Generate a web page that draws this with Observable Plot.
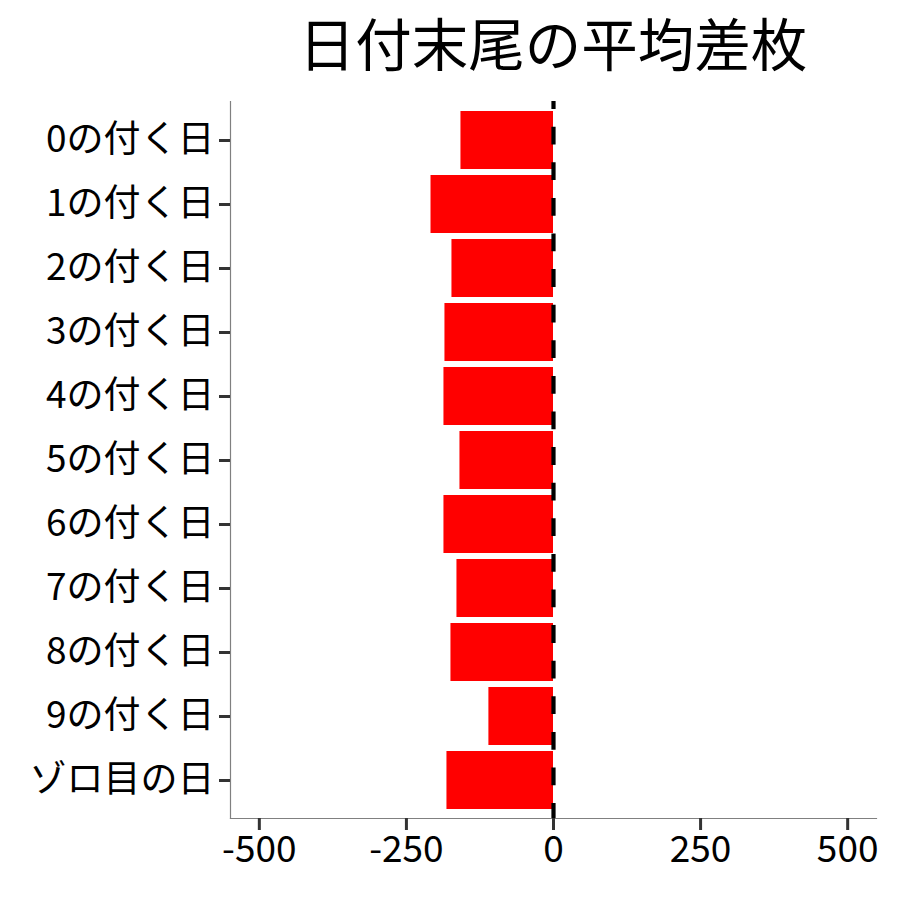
<!DOCTYPE html>
<html>
<head>
<meta charset="utf-8">
<script src="https://cdn.jsdelivr.net/npm/d3@7"></script>
<script src="https://cdn.jsdelivr.net/npm/@observablehq/plot@0.6"></script>
<style>
  html, body { margin: 0; padding: 0; background: #fff; }
  #wrap { width: 900px; height: 900px; position: relative; font-family: "Noto Sans CJK JP", sans-serif; }
  #title { position: absolute; left: 230px; width: 646px; top: 8px; text-align: center; font-size: 56.5px; line-height: 66px; color: #000; white-space: nowrap; }
  #chart { position: absolute; left: 0; top: 90px; }
</style>
</head>
<body>
<div id="wrap">
  <div id="title">日付末尾の平均差枚</div>
  <div id="chart"></div>
</div>
<script>
const categories = ["0の付く日", "1の付く日", "2の付く日", "3の付く日", "4の付く日", "5の付く日", "6の付く日", "7の付く日", "8の付く日", "9の付く日", "ゾロ目の日"];
const values = [-157.3, -208.2, -172.6, -184.5, -186.2, -159.0, -186.2, -164.1, -174.3, -109.8, -181.1];
const xTicks = [-500, -250, 0, 250, 500];
const xDomain = [-549, 549];
const refLine = [0];

const data = categories.map((c, i) => ({ label: c, value: values[i] }));

const chart = Plot.plot({
  width: 900,
  height: 810,
  marginTop: 11,
  marginBottom: 82,
  marginLeft: 230,
  marginRight: 24,
  style: { fontFamily: "'Noto Sans CJK JP', sans-serif", background: "#fff", color: "#000" },
  x: { domain: xDomain, ticks: xTicks },
  y: { domain: categories, paddingInner: 0.1, paddingOuter: 0.15, align: 0.5 },
  marks: [
    Plot.barX(data, { x: "value", y: "label", fill: "#ff0000" }),
    Plot.frame({ anchor: "left", stroke: "#808080", strokeWidth: 1.2 }),
    Plot.frame({ anchor: "bottom", stroke: "#808080", strokeWidth: 1.2 }),
    Plot.ruleX(refLine, { stroke: "#000", strokeWidth: 4.2, strokeDasharray: "17.8,17.8", strokeDashoffset: 9.9 }),
    Plot.axisX({ ticks: xTicks, tickSize: 12, tickPadding: 5, stroke: "#333", strokeWidth: 3, strokeOpacity: 1, fontSize: 37, fill: "#000", label: null, tickFormat: d => String(d).replace("−", "-") }),
    Plot.axisY({ tickSize: 11, tickPadding: 5, stroke: "#333", strokeWidth: 3, strokeOpacity: 1, fontSize: 37, fill: "#000", label: null })
  ]
});
document.getElementById("chart").appendChild(chart);
</script>
</body>
</html>
